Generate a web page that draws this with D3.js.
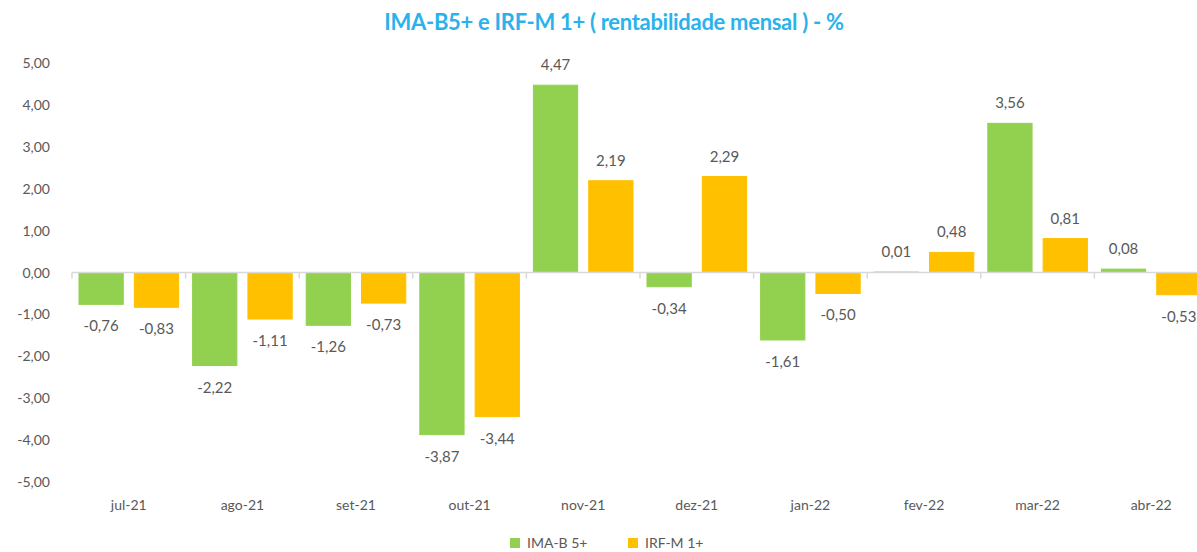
<!DOCTYPE html>
<html>
<head>
<meta charset="utf-8">
<script src="https://cdn.jsdelivr.net/npm/d3@7"></script>
<style>
  body { margin: 0; background: #fff; }
  svg { display: block; font-family: Lato, "Open Sans", sans-serif; }
</style>
</head>
<body>
<svg width="1197" height="552"></svg>
<script>
const months = ["jul-21","ago-21","set-21","out-21","nov-21","dez-21","jan-22","fev-22","mar-22","abr-22"]
const seriesNames = ["IMA-B 5+", "IRF-M 1+"]
const imab5 = [-0.76, -2.22, -1.26, -3.87, 4.47, -0.34, -1.61, 0.01, 3.56, 0.08]
const irfm1 = [-0.83, -1.11, -0.73, -3.44, 2.19, 2.29, -0.50, 0.48, 0.81, -0.53]
const yTicks = [5, 4, 3, 2, 1, 0, -1, -2, -3, -4, -5]
const colors = ["#92D050", "#FFC000"]

const svg = d3.select("svg")
const fmt = v => d3.format(".2f")(v).replace(".", ",").replace("−", "-")

const left = 72, stepW = 113.6
const x0 = d3.scaleBand().domain(months).range([left, left + stepW * months.length])
const x1 = d3.scaleBand().domain(seriesNames).range([7, x0.bandwidth() - 7]).paddingInner(0.2)
const y = d3.scaleLinear().domain([-5, 5]).range([482, 63])

// title
svg.append("text")
    .attr("x", 614).attr("y", 30)
    .attr("text-anchor", "middle")
    .attr("font-size", 22).attr("font-weight", "bold")
    .attr("letter-spacing", -0.3)
    .attr("fill", "#2BB2EC")
    .text("IMA-B5+ e IRF-M 1+ ( rentabilidade mensal ) - %")

// y axis labels
svg.append("g").selectAll("text")
    .data(yTicks).enter().append("text")
    .attr("x", 50).attr("y", d => y(d) + 5)
    .attr("text-anchor", "end")
    .attr("font-size", 14).attr("fill", "#595959")
    .text(fmt)

// bars
const rows = months.map((m, i) => ({ m, vals: [imab5[i], irfm1[i]] }))
const grp = svg.append("g").selectAll("g")
    .data(rows).enter().append("g")
    .attr("transform", d => `translate(${x0(d.m)},0)`)

grp.selectAll("rect")
    .data(d => d.vals.map((v, k) => ({ v, s: seriesNames[k], k })))
    .enter().append("rect")
    .attr("x", d => x1(d.s))
    .attr("width", x1.bandwidth())
    .attr("y", d => y(Math.max(0, d.v)))
    .attr("height", d => Math.abs(y(d.v) - y(0)))
    .attr("fill", d => colors[d.k])
    .attr("stroke", d => colors[d.k])
    .attr("stroke-width", 1)

grp.selectAll("text")
    .data(d => d.vals.map((v, k) => ({ v, s: seriesNames[k] })))
    .enter().append("text")
    .attr("x", d => x1(d.s) + x1.bandwidth() / 2)
    .attr("y", d => d.v >= 0 ? y(d.v) - 15 : y(d.v) + 27)
    .attr("text-anchor", "middle")
    .attr("font-size", 15).attr("fill", "#595959")
    .text(d => fmt(d.v))

// zero line with ticks
const axis = svg.append("g")
axis.append("line")
    .attr("x1", left).attr("x2", 1197)
    .attr("y1", y(0)).attr("y2", y(0))
    .attr("stroke", "#d9d9d9").attr("stroke-width", 1.5)
axis.selectAll(".tk")
    .data(d3.range(months.length + 1)).enter().append("line")
    .attr("x1", i => left + i * stepW).attr("x2", i => left + i * stepW)
    .attr("y1", y(0)).attr("y2", y(0) + 6)
    .attr("stroke", "#d9d9d9").attr("stroke-width", 1.5)

// category labels
svg.append("g").selectAll("text")
    .data(months).enter().append("text")
    .attr("x", d => x0(d) + x0.bandwidth() / 2)
    .attr("y", 510)
    .attr("text-anchor", "middle")
    .attr("font-size", 14).attr("fill", "#595959")
    .text(d => d)

// legend
const leg = svg.append("g").selectAll("g")
    .data(seriesNames).enter().append("g")
    .attr("transform", (d, i) => `translate(${510 + i * 118},538)`)
leg.append("rect").attr("width", 10).attr("height", 10).attr("fill", (d, i) => colors[i])
leg.append("text")
    .attr("x", 17).attr("y", 10)
    .attr("font-size", 14).attr("fill", "#595959")
    .text(d => d)
</script>
</body>
</html>
